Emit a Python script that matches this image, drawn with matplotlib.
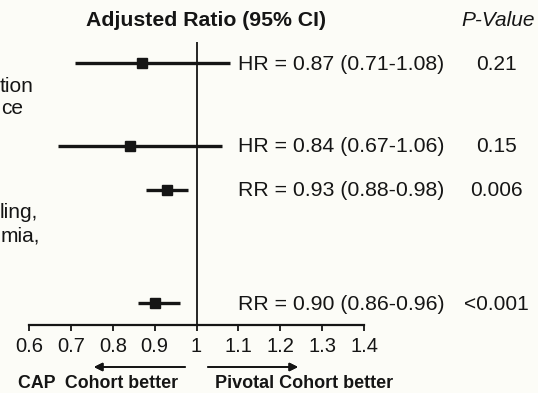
import matplotlib
matplotlib.use('Agg')
import matplotlib.pyplot as plt

# forest plot values
ratio_type = ['HR', 'HR', 'RR', 'RR']
estimate = [0.87, 0.84, 0.93, 0.90]
ci_low = [0.71, 0.67, 0.88, 0.86]
ci_high = [1.08, 1.06, 0.98, 0.96]
p_values = ['0.21', '0.15', '0.006', '<0.001']
row_labels = [('tion', 'ce'), None, ('ling,', 'mia,'), None]
xticks = [0.6, 0.7, 0.8, 0.9, 1.0, 1.1, 1.2, 1.3, 1.4]
xtick_labels = ['0.6', '0.7', '0.8', '0.9', '1', '1.1', '1.2', '1.3', '1.4']

W, H = 538, 393
BG = '#fcfcf7'
INK = '#151515'
FONT = ['Liberation Sans', 'DejaVu Sans']
row_y = [63, 146, 190, 303]   # row centres, pixels from top


def fx(x):
    return x / W


def fy(y):
    return 1 - y / H


plt.rcParams['font.family'] = FONT
fig = plt.figure(figsize=(W / 100, H / 100), dpi=100, facecolor=BG)
ax = fig.add_axes([fx(29), fy(325), (364 - 29) / W, (325 - 42) / H], facecolor=BG)
ax.set_xlim(0.6, 1.4)
ax.set_ylim(325, 42)

for s in ('left', 'right', 'top'):
    ax.spines[s].set_visible(False)
ax.spines['bottom'].set_linewidth(1.6)
ax.spines['bottom'].set_color(INK)
ax.set_yticks([])
ax.set_xticks(xticks)
ax.set_xticklabels(xtick_labels)
ax.tick_params(axis='x', direction='out', length=4, width=1.3, color=INK,
               pad=5, labelsize=14.5, labelcolor=INK)

ax.axvline(1.0, color=INK, lw=1.3, zorder=1)

for y, est, lo, hi, kind, p in zip(row_y, estimate, ci_low, ci_high, ratio_type, p_values):
    ax.plot([lo, hi], [y, y], color=INK, lw=2.4, solid_capstyle='butt', zorder=2)
    ax.plot(est, y, marker='s', ms=7.5, color=INK, zorder=3)
    ax.text(1.1, y + 1, f'{kind} = {est:.2f} ({lo:.2f}-{hi:.2f})', ha='left', va='center',
            fontsize=15.3, color=INK, clip_on=False)
    ax.text(1.716, y + 1, p, ha='center', va='center', fontsize=15, color=INK, clip_on=False)

# row captions running in from the left margin
for y, lab in zip(row_y, row_labels):
    if lab is None:
        continue
    fig.text(fx(0), fy(y + 23), lab[0], ha='left', va='center', fontsize=15, color=INK)
    fig.text(fx(1), fy(y + 46), lab[1], ha='left', va='center', fontsize=15, color=INK)

fig.text(fx(206), fy(20), 'Adjusted Ratio (95% CI)', ha='center', va='center',
         fontsize=15.3, fontweight='bold', color=INK)
fig.text(fx(498), fy(20), 'P-Value', ha='center', va='center',
         fontsize=15, fontstyle='italic', color=INK)

# direction arrows under the axis
arrow = dict(arrowstyle='-|>', color=INK, lw=1.3, mutation_scale=12, shrinkA=0, shrinkB=0)
fig.add_artist(plt.annotate('', xy=(fx(94), fy(367)), xytext=(fx(185), fy(367)),
                            xycoords='figure fraction', arrowprops=arrow))
fig.add_artist(plt.annotate('', xy=(fx(298), fy(367)), xytext=(fx(208), fy(367)),
                            xycoords='figure fraction', arrowprops=arrow))
fig.text(fx(98), fy(384), 'CAP  Cohort better', ha='center', va='center',
         fontsize=12.8, fontweight='bold', color=INK)
fig.text(fx(304), fy(384), 'Pivotal Cohort better', ha='center', va='center',
         fontsize=13, fontweight='bold', color=INK)

fig.savefig('out.png', dpi=100, facecolor=BG)
